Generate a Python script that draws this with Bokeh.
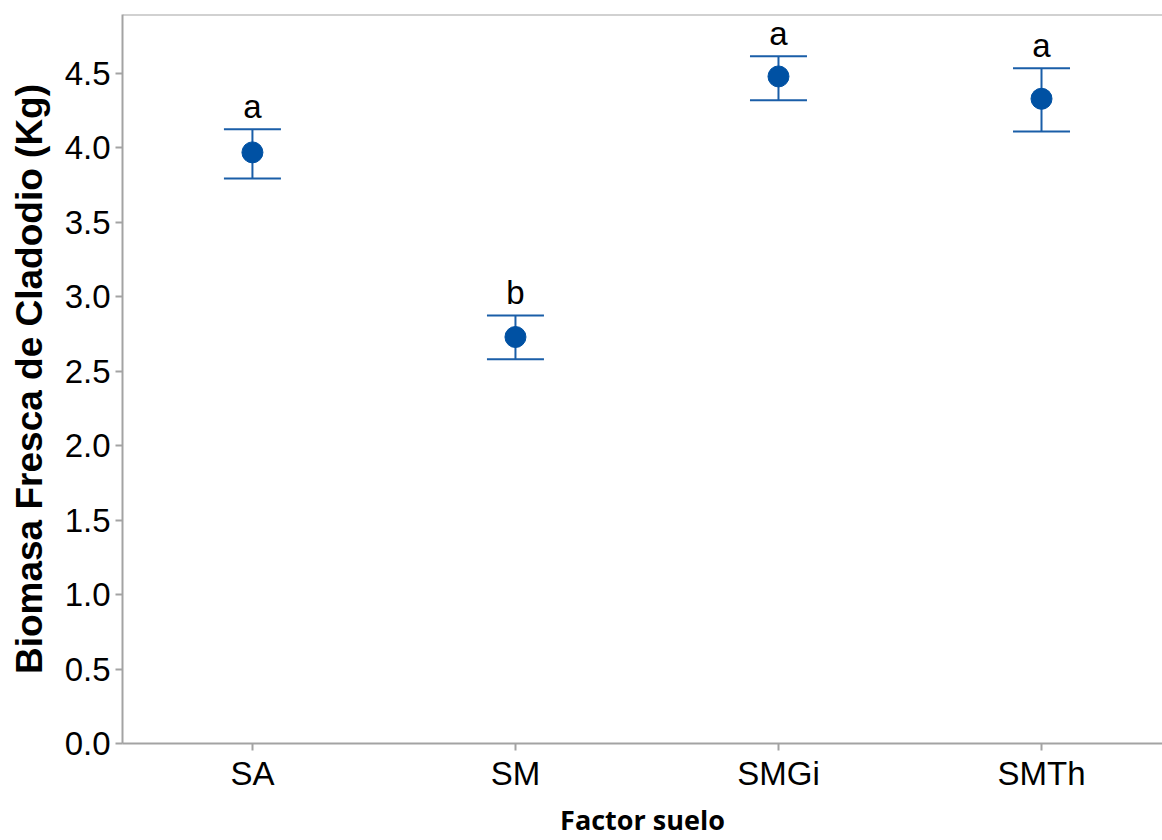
from bokeh.plotting import figure
from bokeh.models import (ColumnDataSource, Whisker, TeeHead, FixedTicker,
                          LabelSet, Span)
from bokeh.core.properties import value
from bokeh.embed import file_html
from bokeh.resources import INLINE

# Soil treatments, fresh cladode biomass (kg): mean with interval bounds
categories = ["SA", "SM", "SMGi", "SMTh"]
means = [3.97, 2.73, 4.48, 4.33]
upper = [4.125, 2.875, 4.615, 4.535]
lower = [3.795, 2.58, 4.32, 4.11]
groups = ["a", "b", "a", "a"]
y_ticks = [0.0, 0.5, 1.0, 1.5, 2.0, 2.5, 3.0, 3.5, 4.0, 4.5]

xpos = list(range(len(categories)))
src = ColumnDataSource(dict(x=xpos, mean=means, upper=upper, lower=lower,
                            grp=groups))

AXIS = "#a3a3a3"
BAR = "#1a5ea8"
DOT = "#0051a3"
FONT = "Liberation Sans"

p = figure(width=1162, height=840, output_backend="svg", toolbar_location=None,
           x_range=(-0.494, 3.46), y_range=(0, 4.896),
           min_border_left=122, min_border_right=0,
           min_border_top=14, min_border_bottom=97)
p.outline_line_color = None
p.grid.visible = False
p.background_fill_color = "white"

# top spine
p.add_layout(Span(location=4.896, dimension="width", line_color=AXIS,
                  line_width=2))

whisk = Whisker(source=src, base="x", upper="upper", lower="lower",
                dimension="height", line_color=BAR, line_width=2,
                upper_head=TeeHead(size=57, line_color=BAR, line_width=2),
                lower_head=TeeHead(size=57, line_color=BAR, line_width=2))
p.add_layout(whisk)

p.scatter("x", "mean", source=src, size=21, color=DOT, marker="circle")

p.add_layout(LabelSet(x="x", y="upper", text="grp", source=src,
                      text_align="center", text_baseline="bottom",
                      y_offset=4, text_font=value(FONT),
                      text_font_size="33px", text_color="black"))

# axes
p.xaxis.ticker = FixedTicker(ticks=xpos)
p.xaxis.major_label_overrides = {i: c for i, c in enumerate(categories)}
p.yaxis.ticker = FixedTicker(ticks=y_ticks)
p.yaxis.major_label_overrides = {t: f"{t:.1f}" for t in y_ticks}

for ax in (p.xaxis[0], p.yaxis[0]):
    ax.axis_line_color = AXIS
    ax.axis_line_width = 2
    ax.major_tick_line_color = AXIS
    ax.major_tick_line_width = 2
    ax.major_tick_out = 7
    ax.major_tick_in = 0
    ax.minor_tick_line_color = None
    ax.major_label_text_font = FONT
    ax.major_label_text_font_size = "33px"
    ax.major_label_text_color = "black"

p.yaxis.major_label_standoff = 5
p.xaxis.major_label_standoff = 4

p.yaxis.axis_label = "Biomasa Fresca de Cladodio (Kg)"
p.yaxis.axis_label_text_font = FONT
p.yaxis.axis_label_text_font_style = "bold"
p.yaxis.axis_label_text_font_size = "37px"
p.yaxis.axis_label_text_color = "black"
p.yaxis.axis_label_standoff = 12

p.xaxis.axis_label = "Factor suelo"
p.xaxis.axis_label_text_font = "Open Sans"
p.xaxis.axis_label_text_font_style = "bold"
p.xaxis.axis_label_text_font_size = "27px"
p.xaxis.axis_label_text_color = "black"
p.xaxis.axis_label_standoff = 6

open("out.html", "w").write(file_html(p, INLINE))
